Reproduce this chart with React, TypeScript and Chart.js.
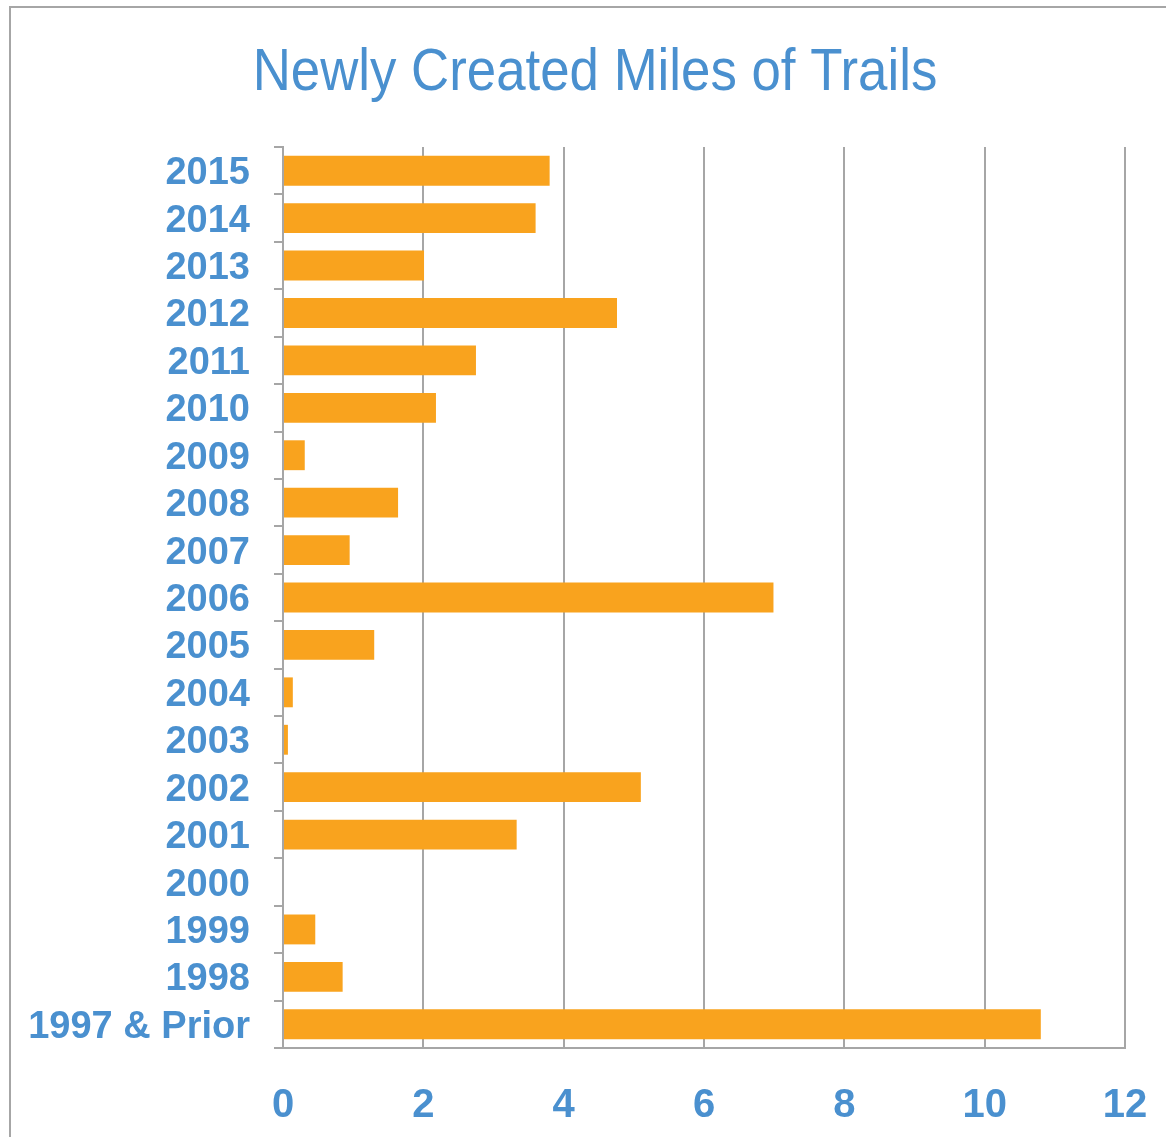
import React, { useEffect, useRef } from "react";
import { Chart, registerables } from "chart.js";

Chart.register(...registerables);

const categories = [
  "2015", "2014", "2013", "2012", "2011", "2010", "2009", "2008", "2007", "2006",
  "2005", "2004", "2003", "2002", "2001", "2000", "1999", "1998", "1997 & Prior",
];
const milesCreated = [
  3.8, 3.6, 2.01, 4.76, 2.75, 2.18, 0.31, 1.64, 0.95, 6.99,
  1.3, 0.14, 0.07, 5.1, 3.33, 0, 0.46, 0.85, 10.8,
];
const xTicks = [0, 2, 4, 6, 8, 10, 12];
const titleText = "Newly Created Miles of Trails";

const BLUE = "#4A90CF";
const ORANGE = "#F9A31E";
const GRAY = "#A6A6A6";

const framePlugin = {
  id: "frame",
  beforeDraw(chart: any) {
    const ctx = chart.ctx;
    ctx.save();
    ctx.fillStyle = "#ffffff";
    ctx.fillRect(0, 0, chart.width, chart.height);
    ctx.strokeStyle = GRAY;
    ctx.lineWidth = 2;
    ctx.strokeRect(10, 7, chart.width + 40, chart.height + 40);
    ctx.restore();
  },
  afterDraw(chart: any) {
    // condensed title (no narrow font installed, so compress horizontally)
    const ctx = chart.ctx;
    ctx.save();
    ctx.fillStyle = BLUE;
    ctx.font = "60px 'Liberation Sans', Arial, sans-serif";
    ctx.textAlign = "center";
    ctx.textBaseline = "alphabetic";
    ctx.translate(595, 90);
    ctx.scale(0.88, 1);
    ctx.fillText(titleText, 0, 0);
    ctx.restore();
  },
};

export default function App() {
  const ref = useRef<HTMLCanvasElement | null>(null);
  useEffect(() => {
    document.body.style.margin = "0";
    const canvas = ref.current!;
    const chart = new Chart(canvas, {
      type: "bar",
      data: {
        labels: categories,
        datasets: [
          {
            data: milesCreated,
            backgroundColor: ORANGE,
            borderWidth: 0,
            categoryPercentage: 1,
            barPercentage: 0.63,
          },
        ],
      },
      options: {
        indexAxis: "y",
        responsive: false,
        animation: false,
        layout: { padding: { left: 20, right: 41, top: 147, bottom: 0 } },
        plugins: {
          legend: { display: false },
          tooltip: { enabled: false },
          title: { display: false },
        },
        scales: {
          x: {
            min: 0,
            max: 12,
            afterBuildTicks: (axis: any) => {
              axis.ticks = xTicks.map((v) => ({ value: v }));
            },
            afterFit: (axis: any) => {
              axis.height = 89;
              axis.paddingLeft = 0;
              axis.paddingRight = 0;
            },
            grid: {
              color: GRAY,
              lineWidth: 2,
              drawTicks: false,
            },
            border: { display: true, color: GRAY, width: 2 },
            ticks: {
              color: BLUE,
              padding: 34,
              font: { family: "'Liberation Sans', Arial, sans-serif", size: 40, weight: "bold" },
            },
          },
          y: {
            afterFit: (axis: any) => {
              axis.width = 263;
              axis.paddingTop = 0;
              axis.paddingBottom = 0;
            },
            grid: {
              display: true,
              drawOnChartArea: false,
              drawTicks: true,
              tickLength: 9,
              color: GRAY,
              lineWidth: 2,
            },
            border: { display: true, color: GRAY, width: 2 },
            ticks: {
              color: BLUE,
              padding: 24,
              labelOffset: 3,
              autoSkip: false,
              font: { family: "'Liberation Sans', Arial, sans-serif", size: 38, weight: "bold" },
            },
          },
        },
      },
      plugins: [framePlugin],
    } as any);
    return () => chart.destroy();
  }, []);
  return (
    <div style={{ width: 1166, height: 1137, overflow: "hidden" }}>
      <canvas ref={ref} width={1166} height={1137} style={{ display: "block" }} />
    </div>
  );
}
